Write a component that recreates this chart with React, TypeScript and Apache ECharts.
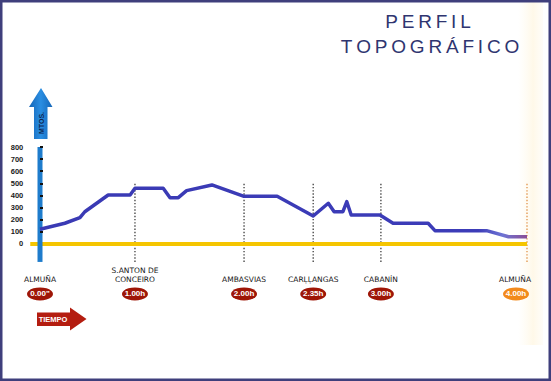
import React, { useEffect, useRef } from "react";
import * as echarts from "echarts";

// ---- data ----
const stopNames = ["ALMUÑA", "S.ANTON DE\nCONCEIRO", "AMBASVIAS", "CARḶḶANGAS", "CABANÍN", "ALMUÑA"];
const stopTimes = ["0.00\"", "1.00h", "2.00h", "2.35h", "3.00h", "4.00h"];
const stopPositions = [0, 19.5, 41.9, 56.1, 70.0, 100];

const profileDistance = [0, 5.1, 8.2, 9.2, 14.0, 18.5, 19.5, 25.3, 26.7, 28.4, 30.1, 35.3, 41.75, 48.7, 56.1, 59.2, 60.4, 62.2, 63.0, 63.9, 69.8, 72.5, 79.7, 81.1, 91.7, 96.2, 100];
const profileAltitude = [121, 171, 217, 266, 404, 404, 459, 459, 382, 382, 440, 487, 394, 394, 231, 336, 266, 266, 349, 239, 239, 171, 171, 110, 110, 60, 60];

const yTicks = [0, 100, 200, 300, 400, 500, 600, 700, 800];
const tickMarks = [100, 200, 300, 400, 500, 600, 700, 800];

// ---- layout levels (axis units) ----
const Y_MIN = -500;
const Y_MAX = 800;
const X_MIN = -2;
const X_MAX = 100;
const GUIDE_TOP = 511;
const GUIDE_BOTTOM = -148;
const NAME_LEVEL = -326;
const BADGE_LEVEL = -412;

const LABEL_FONT = "'DejaVu Sans', 'Liberation Sans', sans-serif";
const THIN = "\u2009";

export default function App() {
  const ref = useRef<HTMLDivElement>(null);

  useEffect(() => {
    document.body.style.margin = "0";
    if (!ref.current) return;
    const chart = echarts.init(ref.current, null, { renderer: "svg" });

    const lastIdx = stopPositions.length - 1;

    const guideSeries = stopPositions.slice(1).map((p, i) => ({
      type: "line",
      name: "guide" + i,
      data: [
        [p, GUIDE_BOTTOM],
        [p, GUIDE_TOP],
      ],
      symbol: "none",
      silent: true,
      z: 1,
      lineStyle: {
        color: i + 1 === lastIdx ? "#e39a55" : "#4a4a4a",
        width: 1.4,
        type: [1.4, 1.8],
      },
    }));

    const option: any = {
      animation: false,
      backgroundColor: "#ffffff",
      grid: { left: 30.26, right: 24, top: 147, bottom: 76.4, containLabel: false },
      xAxis: {
        type: "value",
        min: X_MIN,
        max: X_MAX,
        axisLine: { show: false },
        axisTick: { show: false },
        axisLabel: { show: false },
        splitLine: { show: false },
      },
      yAxis: {
        type: "value",
        min: Y_MIN,
        max: Y_MAX,
        z: 10,
        axisLine: { show: true, onZero: true, lineStyle: { color: "transparent" } },
        axisTick: {
          show: true,
          customValues: tickMarks,
          inside: true,
          length: 3,
          lineStyle: { color: "#111", width: 2 },
        },
        axisLabel: {
          show: true,
          customValues: yTicks,
          margin: 7,
          color: "#1a1a1a",
          fontSize: 7.5,
          fontWeight: "bold",
          fontFamily: "'Liberation Sans', Arial, sans-serif",
          formatter: (v: number) => String(v),
        },
        splitLine: { show: false },
      },
      series: [
        {
          type: "line",
          name: "nivel0",
          data: [
            [X_MIN, 0],
            [X_MAX, 0],
          ],
          symbol: "none",
          silent: true,
          z: 2,
          lineStyle: { width: 4, color: "#f5c500" },
        },
        {
          type: "line",
          name: "eje",
          data: [
            [0, GUIDE_BOTTOM],
            [0, Y_MAX],
          ],
          symbol: "none",
          silent: true,
          z: 3,
          lineStyle: { width: 5, color: "#1e7ccc" },
        },
        ...guideSeries,
        {
          type: "line",
          name: "perfil",
          data: profileDistance.map((d, i) => [d, profileAltitude[i]]),
          symbol: "none",
          z: 4,
          lineStyle: {
            width: 3.5,
            join: "round",
            color: new echarts.graphic.LinearGradient(0, 0, 1, 0, [
              { offset: 0, color: "#3a3ab4" },
              { offset: 0.9, color: "#3c3cb8" },
              { offset: 0.95, color: "#6e74d4" },
              { offset: 1, color: "#8a4d96" },
            ]),
          },
        },
        {
          type: "scatter",
          name: "nombres",
          data: stopPositions.map((p) => [p, NAME_LEVEL]),
          symbolSize: 0,
          silent: true,
          z: 5,
          itemStyle: { opacity: 1 },
          label: {
            show: true,
            position: [0, 0],
            align: "center",
            verticalAlign: "bottom",
            fontSize: 7.5,
            lineHeight: 9,
            fontFamily: LABEL_FONT,
            color: "#161616",
            formatter: (p: any) => stopNames[p.dataIndex],
          },
          labelLayout: (params: any) =>
            params.dataIndex === lastIdx ? { dx: -12 } : {},
        },
        {
          type: "scatter",
          name: "tiempos",
          data: stopPositions.map((p, i) => ({
            value: [p, BADGE_LEVEL],
            itemStyle: { color: i === lastIdx ? "#f28a1c" : "#9e1607", opacity: 1 },
            symbolOffset: i === lastIdx ? [-11, 0] : [0, 0],
          })),
          symbol: "circle",
          symbolSize: [26, 13],
          silent: true,
          z: 5,
          itemStyle: { opacity: 1 },
          label: {
            show: true,
            position: "inside",
            fontSize: 8,
            fontWeight: "bold",
            fontFamily: "'Liberation Sans', Arial, sans-serif",
            color: "#ffffff",
            formatter: (p: any) => stopTimes[p.dataIndex],
          },
        },
      ],
      graphic: [
        {
          type: "rect",
          z: 0,
          silent: true,
          shape: { x: 518, y: 2, width: 25, height: 343 },
          style: {
            fill: new echarts.graphic.LinearGradient(0, 0, 1, 0, [
              { offset: 0, color: "rgba(255,246,220,0)" },
              { offset: 0.6, color: "rgba(255,240,205,0.45)" },
              { offset: 1, color: "rgba(255,244,220,0.2)" },
            ]),
          },
        },
        {
          type: "rect",
          z: 100,
          silent: true,
          shape: { x: 1.2, y: 1.2, width: 548.6, height: 378.6 },
          style: { fill: "none", stroke: "#3f3f7c", lineWidth: 2.6 },
        },
        {
          type: "text",
          x: 428,
          y: 21,
          style: {
            text: ["P", "E", "R", "F", "I", "L"].join(THIN),
            fill: "#2f3570",
            fontSize: 19,
            fontFamily: "'Liberation Sans', Arial, sans-serif",
            textAlign: "center",
            textVerticalAlign: "middle",
          },
        },
        {
          type: "text",
          x: 430,
          y: 46,
          style: {
            text: ["T", "O", "P", "O", "G", "R", "Á", "F", "I", "C", "O"].join(THIN),
            fill: "#2f3570",
            fontSize: 19,
            fontFamily: "'Liberation Sans', Arial, sans-serif",
            textAlign: "center",
            textVerticalAlign: "middle",
          },
        },
        {
          type: "polygon",
          silent: true,
          shape: {
            points: [
              [41, 88],
              [52.5, 107],
              [47.5, 107],
              [47.5, 139],
              [34, 139],
              [34, 107],
              [29, 107],
            ],
          },
          style: {
            fill: new echarts.graphic.LinearGradient(0, 0, 1, 0, [
              { offset: 0, color: "#1566b8" },
              { offset: 0.5, color: "#2a8ee2" },
              { offset: 1, color: "#1566b8" },
            ]),
          },
        },
        {
          type: "text",
          x: 41,
          y: 123,
          rotation: Math.PI / 2,
          style: {
            text: "MTOS.",
            fill: "#0d2550",
            fontSize: 7,
            fontWeight: "bold",
            fontFamily: "'Liberation Sans', Arial, sans-serif",
            textAlign: "center",
            textVerticalAlign: "middle",
          },
        },
        {
          type: "polygon",
          silent: true,
          shape: {
            points: [
              [37, 312.5],
              [70, 312.5],
              [70, 307.5],
              [86.5, 319],
              [70, 330.5],
              [70, 326],
              [37, 326],
            ],
          },
          style: { fill: "#b41d10" },
        },
        {
          type: "text",
          x: 53,
          y: 319.5,
          style: {
            text: "TIEMPO",
            fill: "#ffffff",
            fontSize: 7.5,
            fontWeight: "bold",
            fontFamily: "'Liberation Sans', Arial, sans-serif",
            textAlign: "center",
            textVerticalAlign: "middle",
          },
        },
      ],
    };

    chart.setOption(option);
    return () => chart.dispose();
  }, []);

  return (
    <div
      ref={ref}
      style={{ position: "fixed", left: 0, top: 0, width: 551, height: 381 }}
    />
  );
}
